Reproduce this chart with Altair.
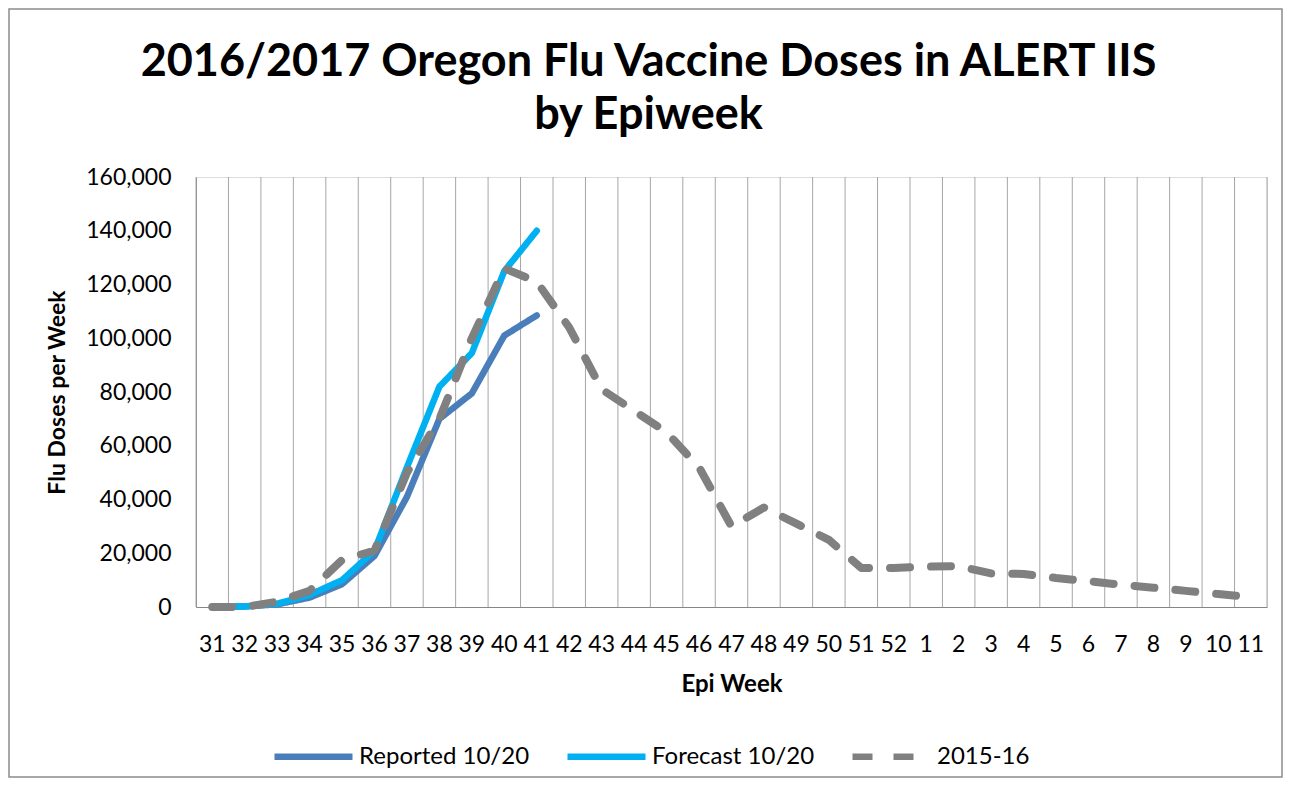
import altair as alt
import pandas as pd

weeks = ["31", "32", "33", "34", "35", "36", "37", "38", "39", "40", "41", "42",
         "43", "44", "45", "46", "47", "48", "49", "50", "51", "52", "1", "2",
         "3", "4", "5", "6", "7", "8", "9", "10", "11"]

reported = [0, 200, 1000, 3500, 8500, 19000, 41000, 70000, 79500, 101000, 108500]
forecast = [0, 200, 1200, 4500, 10000, 21000, 52000, 82000, 94500, 125000, 140000]
season_2015_16 = [0, 0, 2000, 6000, 17500, 21000, 50000, 70000, 100000, 126000, 121000,
                  104000, 81000, 73000, 65000, 52000, 30000, 37000, 31000, 25000,
                  14500, 14500, 15000, 15200, 12500, 12300, 10800, 9600, 8300, 7200,
                  6000, 4800, 3700]

series_names = ["Reported 10/20", "Forecast 10/20", "2015-16"]
series_colors = ["#4A7EBB", "#00B0F0", "#808080"]
y_ticks = [0, 20000, 40000, 60000, 80000, 100000, 120000, 140000, 160000]

rows = []
for name, vals in zip(series_names, [reported, forecast, season_2015_16]):
    for w, v in zip(weeks, vals):
        rows.append({"week": w, "value": v, "series": name})
df = pd.DataFrame(rows)
wk = pd.DataFrame({"week": weeks})
frame_df = pd.DataFrame({"k": [0]})

FONT = "Lato"
W, H = 1071, 430
PAD = {"left": 188, "top": 169, "right": 16, "bottom": 171}

xscale = alt.Scale(type="band", paddingInner=0, paddingOuter=0)
yscale = alt.Scale(domain=[0, 160000])

def make_legend():
    return alt.Legend(title=None, orient="none", direction="horizontal",
                      legendX=75, legendY=537, symbolType="stroke",
                      symbolSize=6084, symbolStrokeWidth=6.5,
                      labelFont=FONT, labelFontSize=24, labelColor="#000000",
                      labelLimit=400, labelOffset=3, columnPadding=24, padding=0)

color = alt.Color("series:N",
                  scale=alt.Scale(domain=series_names, range=series_colors),
                  legend=make_legend())
dash = alt.StrokeDash("series:N",
                      scale=alt.Scale(domain=series_names, range=[[1, 0], [1, 0], [20, 21]]),
                      legend=make_legend())

border = alt.Chart(frame_df).mark_rect(fill=None, stroke="#8c8c8c", strokeWidth=1.5).encode(
    x=alt.value(-PAD["left"] + 1), x2=alt.value(W + PAD["right"] - 1),
    y=alt.value(-PAD["top"] + 1), y2=alt.value(H + PAD["bottom"] - 1))

grid = alt.Chart(wk).mark_rule(color="#A6A6A6", strokeWidth=1).encode(
    x=alt.X("week:N", sort=weeks, scale=xscale, bandPosition=0,
            axis=alt.Axis(title="Epi Week", grid=False, ticks=False, domainColor="#868686",
                          labelAngle=0, labelFont=FONT, labelFontSize=23, labelColor="#000000",
                          labelPadding=26, titleFont=FONT, titleFontSize=24,
                          titleFontWeight="bold", titleColor="#000000", titlePadding=16)))

grid_end = alt.Chart(wk).transform_filter(alt.datum.week == weeks[-1]).mark_rule(
    color="#A6A6A6", strokeWidth=1).encode(
    x=alt.X("week:N", sort=weeks, scale=xscale, bandPosition=1))

def series_layer(name, width):
    return alt.Chart(df).transform_filter(alt.datum.series == name).mark_line(
        strokeWidth=width, strokeCap="round", strokeJoin="round").encode(
        x=alt.X("week:N", sort=weeks, scale=xscale, bandPosition=0.5),
        y=alt.Y("value:Q", scale=yscale,
                axis=alt.Axis(title="Flu Doses per Week", values=y_ticks, format=",.0f",
                              grid=False, ticks=False, domainColor="#868686",
                              labelFont=FONT, labelFontSize=23, labelColor="#000000",
                              labelPadding=25, titleFont=FONT, titleFontSize=23,
                              titleFontWeight="bold", titleColor="#000000",
                              titlePadding=16)),
        color=color,
        strokeDash=dash)

chart = alt.layer(
    border, grid, grid_end,
    series_layer(series_names[0], 6.5),
    series_layer(series_names[1], 6.5),
    series_layer(series_names[2], 8),
).properties(
    width=W, height=H,
    padding=PAD,
    autosize=alt.AutoSizeParams(type="none"),
    title=alt.TitleParams(
        text=["2016/2017 Oregon Flu Vaccine Doses in ALERT IIS", "by Epiweek"],
        font=FONT, fontSize=45, fontWeight="bold", color="#000000",
        anchor="middle", frame="bounds", lineHeight=53, offset=-130, dx=3),
).configure_view(stroke=None).configure(background="white")

chart.save("out.html", embed_options={"renderer": "svg", "actions": False})
